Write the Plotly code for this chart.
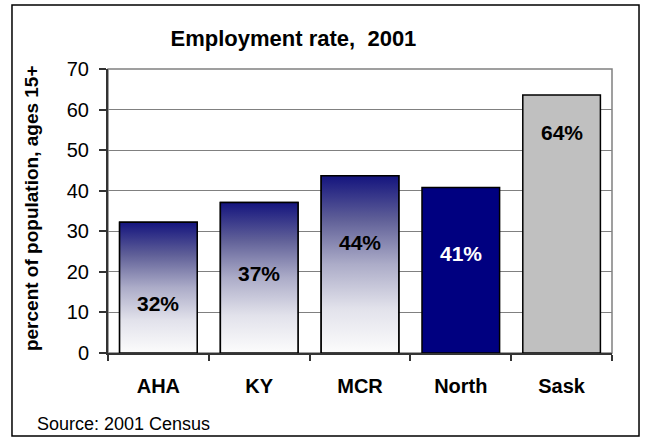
import plotly.graph_objects as go

# Employment rate by region, 2001 (percent of population aged 15+)
regions = ["AHA", "KY", "MCR", "North", "Sask"]
employment_rate = [32.2, 37.1, 43.7, 40.8, 63.6]
y_ticks = [0, 10, 20, 30, 40, 50, 60, 70]

# which bars get the navy-to-white gradient, and flat colours for the rest
gradient_bar = [True, True, True, False, False]
flat_colours = ["rgba(0,0,0,0)", "rgba(0,0,0,0)", "rgba(0,0,0,0)", "#000080", "#c0c0c0"]
label_colours = ["#000000", "#000000", "#000000", "#ffffff", "#000000"]
# vertical placement of each percentage label, in axis units
label_y = [12.3, 19.5, 27.3, 24.6, 54.4]

BAR_W = 0.77
FONT = "Liberation Sans, Arial, sans-serif"
GRADIENT = [
    [0.0, "#fcfcfc"],
    [0.25, "#e2e2eb"],
    [0.5, "#acacc8"],
    [0.75, "#606098"],
    [1.0, "#14147e"],
]

x_pos = list(range(len(regions)))

fig = go.Figure()

# plain bars (solid fills; transparent where a gradient is layered on top)
fig.add_trace(go.Bar(
    x=x_pos, y=employment_rate, width=BAR_W,
    marker=dict(color=flat_colours, line=dict(color="#000000", width=1.5)),
    hoverinfo="skip", showlegend=False,
))

# gradient-filled bars drawn as closed outlines with a vertical fill gradient
for i, (v, g) in enumerate(zip(employment_rate, gradient_bar)):
    if not g:
        continue
    x0, x1 = i - BAR_W / 2, i + BAR_W / 2
    fig.add_trace(go.Scatter(
        x=[x0, x0, x1, x1, x0], y=[0, v, v, 0, 0],
        mode="lines", fill="toself",
        line=dict(color="#000000", width=1.5),
        fillgradient=dict(type="vertical", colorscale=GRADIENT, start=0, stop=v),
        hoverinfo="skip", showlegend=False,
    ))

annotations = []
for i, (v, ly, c) in enumerate(zip(employment_rate, label_y, label_colours)):
    annotations.append(dict(
        x=i, y=ly, xref="x", yref="y", text=f"{v:.0f}%", showarrow=False,
        font=dict(family=FONT, size=21, color=c, weight="bold"),
    ))

# y-axis title
annotations.append(dict(
    x=-0.153, y=0.51, xref="paper", yref="paper", textangle=-90,
    text="percent of population, ages 15+", showarrow=False,
    font=dict(family=FONT, size=19, color="#000000", weight="bold"),
    xanchor="center", yanchor="middle",
))
# source note
annotations.append(dict(
    x=-0.145, y=-0.25, xref="paper", yref="paper", text="Source: 2001 Census",
    showarrow=False, xanchor="left", yanchor="middle",
    font=dict(family=FONT, size=18, color="#000000"),
))

shapes = [
    # plot area frame (grey top/right edges)
    dict(type="rect", xref="paper", yref="paper", x0=0, x1=1, y0=0, y1=1,
         line=dict(color="#808080", width=1.5), layer="below"),
    # outer chart border
    dict(type="rect", xref="paper", yref="paper",
         x0=-0.1905, x1=1.0536, y0=-0.2925, y1=1.2254,
         line=dict(color="#000000", width=1.5)),
]

fig.update_layout(
    width=647, height=440,
    margin=dict(l=108, r=35, t=69, b=87),
    paper_bgcolor="#ffffff", plot_bgcolor="#ffffff",
    font=dict(family=FONT, color="#000000"),
    title=dict(
        text="<b>Employment rate,  2001</b>", x=0.4536, xref="container",
        y=0.9136, yref="container", xanchor="center", yanchor="middle",
        font=dict(family=FONT, size=22, color="#000000"),
    ),
    xaxis=dict(
        range=[-0.5, len(regions) - 0.5],
        tickmode="array", tickvals=x_pos, ticktext=regions,
        ticks="", ticklabelstandoff=14,
        tickfont=dict(family=FONT, size=20, color="#000000", weight="bold"),
        showgrid=False, zeroline=False,
        showline=True, linecolor="#333333", linewidth=2,
        minor=dict(tickmode="array",
                   tickvals=[k - 0.5 for k in range(len(regions) + 1)],
                   ticks="outside", ticklen=6, tickcolor="#333333",
                   tickwidth=1.5, showgrid=False),
        fixedrange=True,
    ),
    yaxis=dict(
        range=[0, 70], tickmode="array", tickvals=y_ticks,
        ticks="outside", ticklen=7, tickcolor="#333333", tickwidth=1.5,
        ticklabelstandoff=6,
        tickfont=dict(family=FONT, size=20, color="#000000"),
        showgrid=True, gridcolor="#808080", gridwidth=1,
        zeroline=False, showline=True, linecolor="#333333", linewidth=2,
        fixedrange=True,
    ),
    annotations=annotations,
    shapes=shapes,
    bargap=0.23,
)

fig.write_html("out.html")
